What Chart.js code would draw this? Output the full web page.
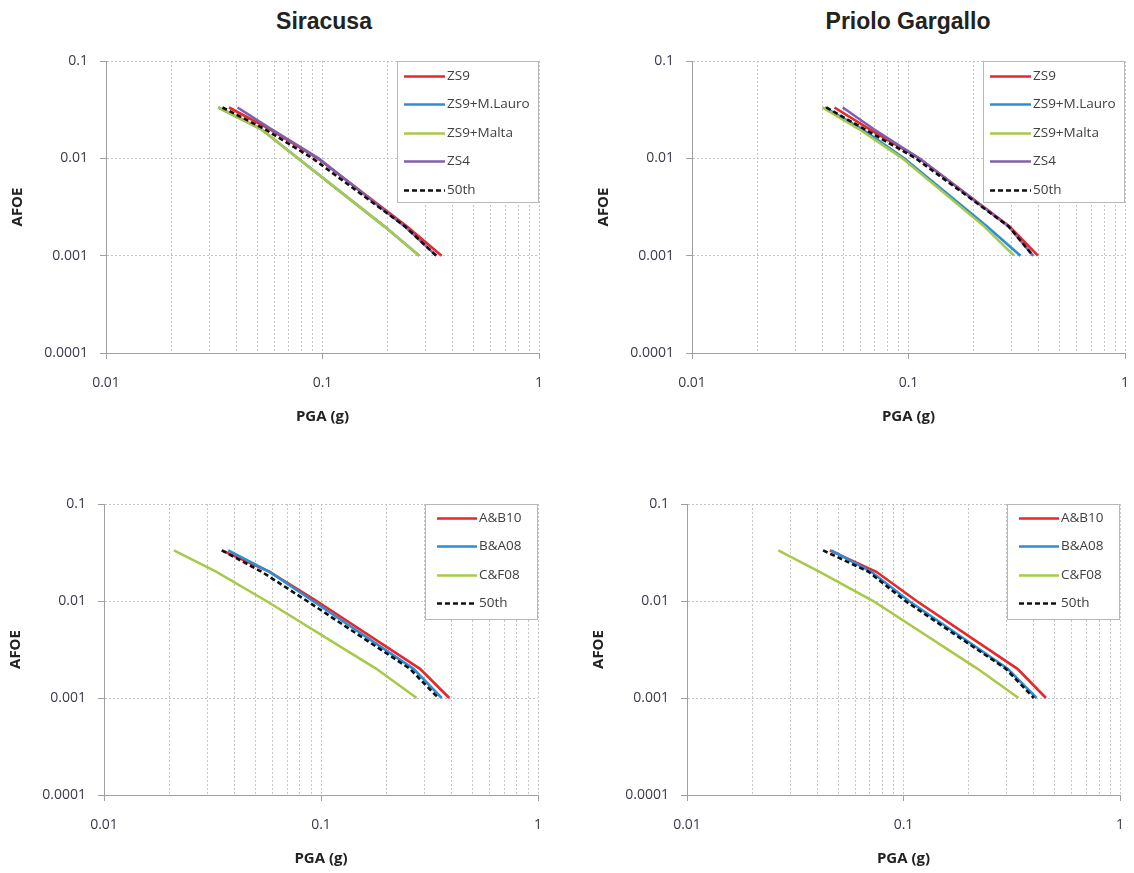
<!DOCTYPE html>
<html>
<head>
<meta charset="utf-8">
<script src="https://cdn.jsdelivr.net/npm/chart.js@4.4.1/dist/chart.umd.min.js"></script>
<style>
  body { margin: 0; background: #fff; width: 1134px; height: 873px; overflow: hidden; position: relative; }
  .title { position: absolute; font: bold 23px "Liberation Sans", Arial, sans-serif; color: #222; transform: translateX(-50%); white-space: nowrap; }
  canvas { position: absolute; }
</style>
</head>
<body>
<div class="title" style="left:324px; top:8px;">Siracusa</div>
<div class="title" style="left:908px; top:8px;">Priolo Gargallo</div>
<canvas id="sirZones"></canvas>
<canvas id="priZones"></canvas>
<canvas id="sirGmpe"></canvas>
<canvas id="priGmpe"></canvas>
<script>
// annual frequency of exceedance shared by every curve
const afoe = [0.0333, 0.02, 0.01, 0.002, 0.001];

const xTickValues = [0.01, 0.1, 1];
const xTickLabels = ["0.01", "0.1", "1"];
const yTickValues = [0.0001, 0.001, 0.01, 0.1];
const yTickLabels = ["0.0001", "0.001", "0.01", "0.1"];

const zoneLabels = ["ZS9", "ZS9+M.Lauro", "ZS9+Malta", "ZS4", "50th"];
const gmpeLabels = ["A&B10", "B&A08", "C&F08", "50th"];

// PGA (g) per curve, Siracusa - source zone models
const sirZS9 = [0.037, 0.057, 0.095, 0.245, 0.355];
const sirZS9Lauro = [0.033, 0.052, 0.077, 0.193, 0.28];
const sirZS9Malta = [0.033, 0.052, 0.077, 0.193, 0.28];
const sirZS4 = [0.0405, 0.058, 0.096, 0.24, 0.335];
const sirZones50 = [0.0345, 0.054, 0.09, 0.24, 0.335];

// Priolo Gargallo - source zone models
const priZS9 = [0.0455, 0.066, 0.112, 0.293, 0.396];
const priZS9Lauro = [0.041, 0.061, 0.0955, 0.23, 0.329];
const priZS9Malta = [0.04, 0.059, 0.0937, 0.2235, 0.307];
const priZS4 = [0.0497, 0.069, 0.112, 0.29, 0.376];
const priZones50 = [0.0417, 0.0625, 0.108, 0.29, 0.376];

// Siracusa - GMPEs
const sirAB10 = [0.0349, 0.058, 0.0955, 0.286, 0.39];
const sirBA08 = [0.0374, 0.058, 0.0918, 0.267, 0.36];
const sirCF08 = [0.021, 0.033, 0.056, 0.18, 0.276];
const sirGmpe50 = [0.0349, 0.0533, 0.0862, 0.257, 0.347];

// Priolo Gargallo - GMPEs
const priAB10 = [0.0457, 0.0749, 0.115, 0.336, 0.455];
const priBA08 = [0.0464, 0.071, 0.106, 0.303, 0.412];
const priCF08 = [0.0264, 0.041, 0.0725, 0.22, 0.34];
const priGmpe50 = [0.0425, 0.069, 0.102, 0.297, 0.40];

const RED = "#e8262b";
const BLUE = "#2a8fd6";
const GREEN = "#a8c94a";
const PURPLE = "#7f5fb0";
const BLACK = "#111111";

const tickFont = { family: "'Open Sans', sans-serif", size: 14 };
const titleFont = { family: "'Open Sans', sans-serif", size: 15, weight: "bold" };

function sameValue(a, b) {
  return Math.abs(Math.log10(a) - Math.log10(b)) < 1e-6;
}

// vertical grid lines at every 1..9 step of each decade
const xGridValues = [];
for (let d = 0; d < xTickValues.length - 1; d++) {
  for (let m = 1; m < 10; m++) xGridValues.push(xTickValues[d] * m);
}
xGridValues.push(xTickValues[xTickValues.length - 1]);

const boxLegend = {
  id: "boxLegend",
  afterDraw(chart, args, opts) {
    const { ctx, chartArea } = chart;
    const x0 = chartArea.right - opts.width - 1;
    const y0 = chartArea.top;
    ctx.save();
    ctx.fillStyle = "#fff";
    ctx.fillRect(x0, y0, opts.width, opts.height);
    ctx.strokeStyle = "#b8b8b8";
    ctx.lineWidth = 1;
    ctx.strokeRect(x0 + 0.5, y0 + 0.5, opts.width, opts.height);
    ctx.font = "13.5px 'Open Sans', sans-serif";
    ctx.textBaseline = "middle";
    chart.data.datasets.forEach((ds, i) => {
      const y = Math.round(y0 + opts.first + i * opts.step) + 0.5;
      ctx.beginPath();
      ctx.strokeStyle = ds.borderColor;
      ctx.lineWidth = ds.borderWidth;
      ctx.setLineDash(ds.borderDash || []);
      ctx.moveTo(x0 + opts.lineStart, y);
      ctx.lineTo(x0 + opts.lineStart + opts.lineLen, y);
      ctx.stroke();
      ctx.setLineDash([]);
      ctx.fillStyle = "#404040";
      ctx.fillText(ds.label, x0 + opts.lineStart + opts.lineLen + 2, y);
    });
    ctx.restore();
  },
};

function makePanel(id, area, labels, series, colors, legendOpts) {
  const canvas = document.getElementById(id);
  const w = area.right - area.left + 106 + 12;
  const h = area.bottom - area.top + 61 + 83;
  canvas.style.left = area.left - 106 + "px";
  canvas.style.top = area.top - 61 + "px";
  canvas.width = w;
  canvas.height = h;

  const datasets = series.map((xs, i) => ({
    label: labels[i],
    data: xs.map((x, j) => ({ x: x, y: afoe[j] })),
    borderColor: colors[i],
    borderWidth: 2.6,
    borderDash: labels[i] === "50th" ? [5, 3] : [],
    pointRadius: 0,
    tension: 0,
    fill: false,
    order: series.length - i,
  }));

  new Chart(canvas, {
    type: "line",
    data: { datasets: datasets },
    options: {
      responsive: false,
      animation: false,
      layout: { padding: { top: 61, right: 12, left: 0, bottom: 0 } },
      plugins: {
        legend: { display: false },
        tooltip: { enabled: false },
        boxLegend: legendOpts,
      },
      scales: {
        x: {
          type: "logarithmic",
          min: 0.01,
          max: 1,
          afterBuildTicks: (s) => { s.ticks = xGridValues.map((v) => ({ value: v })); },
          afterFit: (s) => { s.height = 83; s.paddingLeft = 0; s.paddingRight = 0; },
          ticks: {
            autoSkip: false,
            maxRotation: 0,
            padding: 16,
            font: tickFont,
            color: "#3a3a4a",
            callback: (v) => {
              const k = xTickValues.findIndex((t) => sameValue(t, v));
              return k >= 0 ? xTickLabels[k] : "";
            },
          },
          grid: {
            color: "#c4c4c4",
            lineWidth: 1,
            tickLength: 6,
            tickColor: (c) => (c.tick && xTickValues.some((t) => sameValue(t, c.tick.value)) ? "#a0a0a0" : "rgba(0,0,0,0)"),
          },
          border: { display: true, color: "#a0a0a0", width: 1, dash: [2, 2] },
          title: { display: true, text: "PGA (g)", font: titleFont, color: "#222", padding: { top: 0, bottom: 10 } },
        },
        y: {
          type: "logarithmic",
          min: 0.0001,
          max: 0.1,
          afterBuildTicks: (s) => { s.ticks = yTickValues.map((v) => ({ value: v })); },
          afterFit: (s) => { s.width = 106; s.paddingTop = 0; s.paddingBottom = 0; },
          ticks: {
            padding: 12,
            font: tickFont,
            color: "#3a3a4a",
            callback: (v) => {
              const k = yTickValues.findIndex((t) => sameValue(t, v));
              return k >= 0 ? yTickLabels[k] : "";
            },
          },
          grid: { color: "#c4c4c4", lineWidth: 1, tickLength: 6, tickColor: "#a0a0a0" },
          border: { display: true, color: "#a0a0a0", width: 1, dash: [2, 2] },
          title: { display: true, text: "AFOE", font: titleFont, color: "#222", padding: { top: 9, bottom: 0 } },
        },
      },
    },
    plugins: [boxLegend],
  });
}

const zoneColors = [RED, BLUE, GREEN, PURPLE, BLACK];
const gmpeColors = [RED, BLUE, GREEN, BLACK];
const zoneLegend = { width: 141, height: 141, first: 15, step: 28.4, lineStart: 7, lineLen: 41 };
const gmpeLegend = { width: 112, height: 115, first: 14, step: 28.4, lineStart: 12, lineLen: 40 };

makePanel("sirZones", { left: 106, top: 61, right: 539, bottom: 353 }, zoneLabels,
  [sirZS9, sirZS9Lauro, sirZS9Malta, sirZS4, sirZones50], zoneColors, zoneLegend);
makePanel("priZones", { left: 692, top: 61, right: 1125, bottom: 353 }, zoneLabels,
  [priZS9, priZS9Lauro, priZS9Malta, priZS4, priZones50], zoneColors, zoneLegend);
makePanel("sirGmpe", { left: 104, top: 504, right: 538, bottom: 795 }, gmpeLabels,
  [sirAB10, sirBA08, sirCF08, sirGmpe50], gmpeColors, gmpeLegend);
makePanel("priGmpe", { left: 687, top: 504, right: 1120, bottom: 795 }, gmpeLabels,
  [priAB10, priBA08, priCF08, priGmpe50], gmpeColors, gmpeLegend);
</script>
</body>
</html>
